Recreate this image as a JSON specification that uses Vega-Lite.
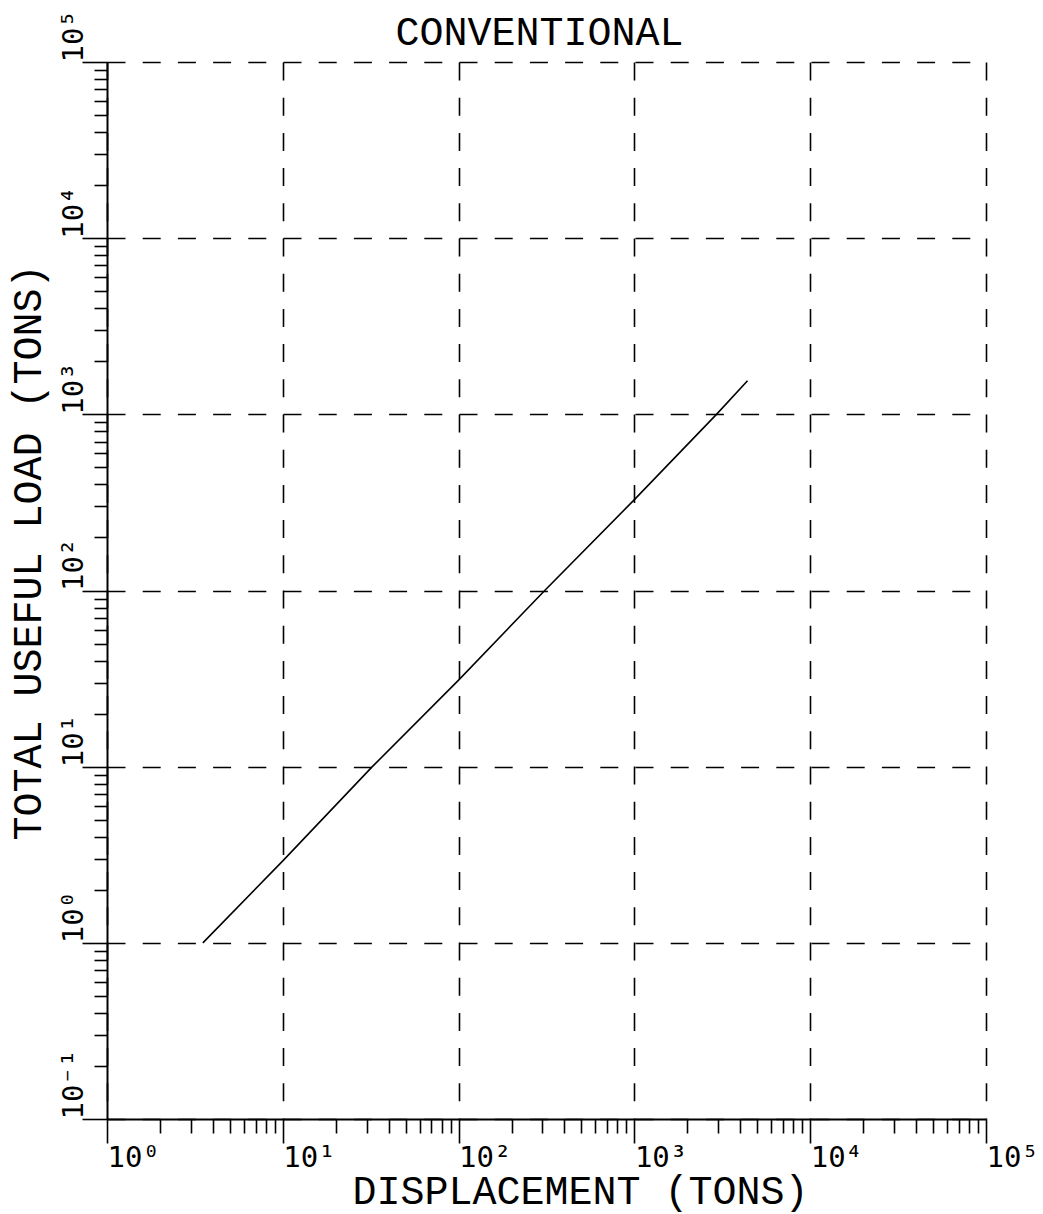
{
  "$schema": "https://vega.github.io/schema/vega-lite/v6.json",
  "width": 879,
  "height": 1057,
  "autosize": "none",
  "padding": {"left": 107, "top": 62, "right": 57, "bottom": 95},
  "background": "white",
  "view": {"stroke": null},
  "title": {
    "text": "CONVENTIONAL",
    "font": "Liberation Mono",
    "fontSize": 40,
    "fontWeight": "normal",
    "color": "black",
    "anchor": "middle",
    "baseline": "alphabetic",
    "offset": 0,
    "dx": -7,
    "dy": 75
  },
  "data": {
    "values": [
      {"displacement": 3.51, "load": 1.0},
      {"displacement": 10, "load": 2.92},
      {"displacement": 32.3, "load": 10},
      {"displacement": 100, "load": 31},
      {"displacement": 309, "load": 100},
      {"displacement": 1000, "load": 328},
      {"displacement": 2930, "load": 1000},
      {"displacement": 4400, "load": 1550}
    ]
  },
  "mark": {"type": "line", "color": "black", "strokeWidth": 1.6, "clip": false},
  "encoding": {
    "x": {
      "field": "displacement",
      "type": "quantitative",
      "scale": {"type": "log", "domain": [1, 100000], "nice": false},
      "axis": {
        "title": "DISPLACEMENT (TONS)",
        "values": [1,2,3,4,5,6,7,8,9,10,20,30,40,50,60,70,80,90,100,200,300,400,500,600,700,800,900,1000,2000,3000,4000,5000,6000,7000,8000,9000,10000,20000,30000,40000,50000,60000,70000,80000,90000,100000],
        "domainColor": "black",
        "domainWidth": 2,
        "tickColor": "black",
        "tickWidth": 1.6,
        "tickSize": {"condition": {"test": "abs(log(datum.value)/LN10 - round(log(datum.value)/LN10)) < 0.001", "value": 24}, "value": 14},
        "grid": true,
        "gridColor": "black",
        "gridWidth": 1.6,
        "gridDash": [18, 17.2],
        "gridOpacity": {"condition": {"test": "abs(log(datum.value)/LN10 - round(log(datum.value)/LN10)) < 0.001", "value": 1}, "value": 0},
        "labelExpr": "abs(log(datum.value)/LN10 - round(log(datum.value)/LN10)) < 0.001 ? '10' + ['⁻¹','⁰','¹','²','³','⁴','⁵'][round(log(datum.value)/LN10) + 1] : ''",
        "labelFont": "DejaVu Sans Mono",
        "labelFontSize": 29,
        "labelColor": "black",
        "labelAlign": "left",
        "labelBaseline": "top",
        "labelPadding": 0,
        "labelFlush": false,
        "labelOverlap": false,
        "labelBound": false,
        "titleFont": "Liberation Mono",
        "titleFontSize": 40,
        "titleFontWeight": "normal",
        "titleColor": "black",
        "titleX": 473,
        "titleY": 84,
        "titleAlign": "center",
        "titleBaseline": "alphabetic"
      }
    },
    "y": {
      "field": "load",
      "type": "quantitative",
      "scale": {"type": "log", "domain": [0.1, 100000], "nice": false},
      "axis": {
        "title": "TOTAL USEFUL LOAD (TONS)",
        "values": [0.1,0.2,0.3,0.4,0.5,0.6,0.7,0.8,0.9,1,2,3,4,5,6,7,8,9,10,20,30,40,50,60,70,80,90,100,200,300,400,500,600,700,800,900,1000,2000,3000,4000,5000,6000,7000,8000,9000,10000,20000,30000,40000,50000,60000,70000,80000,90000,100000],
        "domainColor": "black",
        "domainWidth": 2,
        "tickColor": "black",
        "tickWidth": 1.6,
        "tickSize": {"condition": {"test": "abs(log(datum.value)/LN10 - round(log(datum.value)/LN10)) < 0.001", "value": 25}, "value": 13},
        "grid": true,
        "gridColor": "black",
        "gridWidth": 1.6,
        "gridDash": [18, 17.2],
        "gridOpacity": {"condition": {"test": "abs(log(datum.value)/LN10 - round(log(datum.value)/LN10)) < 0.001", "value": 1}, "value": 0},
        "labelExpr": "abs(log(datum.value)/LN10 - round(log(datum.value)/LN10)) < 0.001 ? '10' + ['⁻¹','⁰','¹','²','³','⁴','⁵'][round(log(datum.value)/LN10) + 1] : ''",
        "labelFont": "DejaVu Sans Mono",
        "labelFontSize": 29,
        "labelColor": "black",
        "labelAngle": 270,
        "labelAlign": "left",
        "labelBaseline": "alphabetic",
        "labelPadding": 0,
        "labelFlush": false,
        "labelOverlap": false,
        "labelBound": false,
        "titleFont": "Liberation Mono",
        "titleFontSize": 40,
        "titleFontWeight": "normal",
        "titleColor": "black",
        "titleAngle": 270,
        "titleX": -67,
        "titleY": 490,
        "titleAlign": "center",
        "titleBaseline": "alphabetic"
      }
    }
  }
}
